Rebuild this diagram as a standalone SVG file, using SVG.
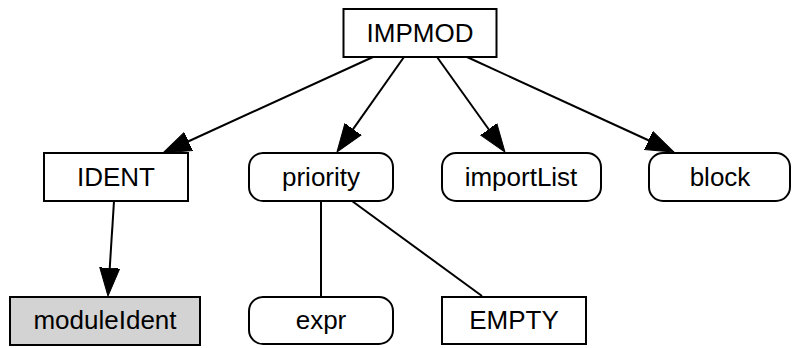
<svg xmlns="http://www.w3.org/2000/svg" width="792" height="348" viewBox="0 0 792 348">
  <style>
    .box { fill: #ffffff; stroke: #000000; stroke-width: 2; }
    .gray { fill: #d3d3d3; }
    .lbl { font-family: "Liberation Sans", Arial, Helvetica, sans-serif; font-size: 26px; text-anchor: middle; fill: #000000; }
    .edge { stroke: #000000; stroke-width: 2; fill: none; }
  </style>
  <defs>
    <marker id="arrow" markerUnits="userSpaceOnUse" markerWidth="30" markerHeight="22" viewBox="0 -11 30 22" refX="4" refY="0" orient="auto">
      <path d="M0,-10 L28,0 L0,10 Z" fill="#000000" stroke="#000000" stroke-width="1"/>
    </marker>
  </defs>
  <rect width="792" height="348" fill="#ffffff"/>
  <g id="connectors">
    <line class="edge" x1="373" y1="57" x2="184.8" y2="143.0" marker-end="url(#arrow)"/>
    <line class="edge" x1="404" y1="57" x2="350.8" y2="132.4" marker-end="url(#arrow)"/>
    <line class="edge" x1="437" y1="57" x2="491.0" y2="132.5" marker-end="url(#arrow)"/>
    <line class="edge" x1="467" y1="57" x2="652.2" y2="142.0" marker-end="url(#arrow)"/>
    <line class="edge" x1="114" y1="201" x2="109.5" y2="272" marker-end="url(#arrow)"/>
    <line class="edge" x1="321" y1="201" x2="321" y2="297"/>
    <line class="edge" x1="352" y1="201" x2="482" y2="296"/>
  </g>
  <g id="IMPMOD">
    <rect class="box" x="343.5" y="9" width="153" height="48"/>
    <text class="lbl" x="420" y="42">IMPMOD</text>
  </g>
  <g id="IDENT">
    <rect class="box" x="44" y="153" width="144" height="48"/>
    <text class="lbl" x="116" y="186">IDENT</text>
  </g>
  <g id="priority">
    <rect class="box" x="249" y="153" width="144" height="48" rx="14" ry="14"/>
    <text class="lbl" x="321" y="186">priority</text>
  </g>
  <g id="importList">
    <rect class="box" x="442" y="153" width="159" height="48" rx="14" ry="14"/>
    <text class="lbl" x="521" y="186">importList</text>
  </g>
  <g id="block">
    <rect class="box" x="649" y="153" width="141" height="48" rx="14" ry="14"/>
    <text class="lbl" x="720" y="186">block</text>
  </g>
  <g id="moduleIdent">
    <rect class="box gray" x="10" y="297" width="190" height="48"/>
    <text class="lbl" x="105" y="329">moduleIdent</text>
  </g>
  <g id="expr">
    <rect class="box" x="249" y="297" width="144" height="47" rx="14" ry="14"/>
    <text class="lbl" x="321" y="329">expr</text>
  </g>
  <g id="EMPTY">
    <rect class="box" x="442" y="297" width="144" height="47"/>
    <text class="lbl" x="514" y="329">EMPTY</text>
  </g>
</svg>
